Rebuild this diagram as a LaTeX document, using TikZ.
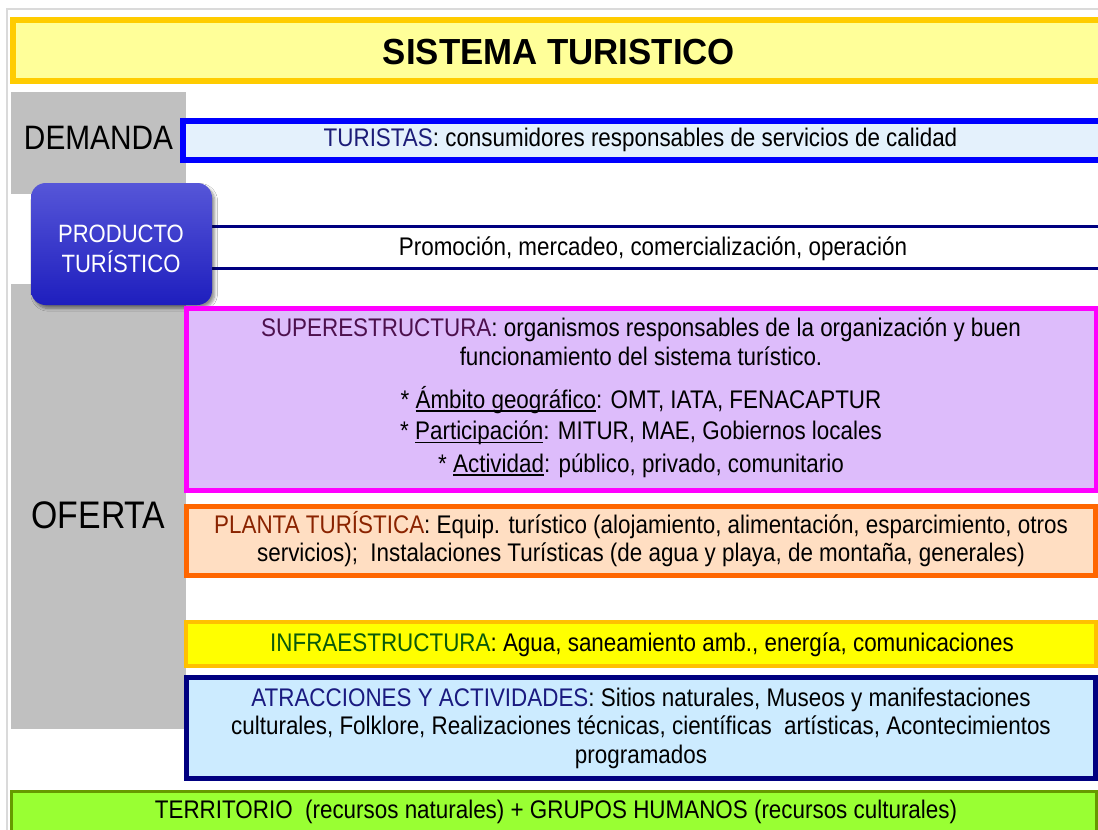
\documentclass[tikz,border=0pt]{standalone}
\usepackage{fontspec}
\setmainfont{Liberation Sans}[FakeStretch=0.88]
\newfontfamily\titlefont{Liberation Sans}[FakeStretch=0.96]
\usetikzlibrary{fit,shadows.blur}
\definecolor{slideedge}{HTML}{DADADA}
\definecolor{grayc}{HTML}{C0C0C0}
\definecolor{titlefill}{HTML}{FFFF99}
\definecolor{titleborder}{HTML}{FFCC00}
\definecolor{turborder}{HTML}{0000FF}
\definecolor{turfill}{HTML}{E4F1FC}
\definecolor{turlab}{HTML}{1C1C78}
\definecolor{navy}{HTML}{000080}
\definecolor{prodtop}{HTML}{5656D8}
\definecolor{prodbot}{HTML}{1E1EBE}
\definecolor{supborder}{HTML}{FF00FF}
\definecolor{supfill}{HTML}{DDBCFB}
\definecolor{suplab}{HTML}{4D104D}
\definecolor{plaborder}{HTML}{FF6600}
\definecolor{plafill}{HTML}{FFDEC2}
\definecolor{plalab}{HTML}{8A2300}
\definecolor{infborder}{HTML}{FFC000}
\definecolor{inffill}{HTML}{FFFF00}
\definecolor{inflab}{HTML}{0A5A0A}
\definecolor{atrfill}{HTML}{CCEBFF}
\definecolor{atrlab}{HTML}{1A1A80}
\definecolor{terborder}{HTML}{669900}
\definecolor{terfill}{HTML}{99FF33}
\newcommand{\undl}[1]{\setbox0\hbox{#1}\rlap{\rule[-2.8pt]{\wd0}{1.1pt}}\box0}
\newcommand{\bodyfont}{\fontsize{19.1}{22}\selectfont}
\begin{document}
\begin{tikzpicture}[x=0.75pt,y=-0.75pt,
  boxfit/.style={inner sep=0pt},
  txt/.style={anchor=base, inner sep=0pt, font=\bodyfont},
  navyline/.style={draw=navy, line width=2.2pt}]
\useasboundingbox (0,0) rectangle (1098,829);
\fill[white] (0,0) rectangle (1098,829);
% slide edge
\draw[slideedge, line width=1.5pt] (7,840) -- (7,9) -- (1110,9);
% gray column
\node[boxfit, fill=grayc, fit={(11,92) (186,194)}] (demcol) {};
\node[boxfit, fill=grayc, fit={(11,284) (186,729)}] (ofcol) {};
% title
\node[boxfit, draw=titleborder, fill=titlefill, line width=4.5pt, fit={(13,20) (1102,81)}] (title) {};
\node[anchor=base, inner sep=0pt, font=\titlefont\bfseries\fontsize{27.2}{30}\selectfont] (titletxt) at (559,64) {SISTEMA TURISTICO};
% demanda
\node[txt, font=\fontsize{25.4}{28}\selectfont] (demanda) at (98.5,149) {DEMANDA};
\node[boxfit, draw=turborder, fill=turfill, line width=4.5pt, fit={(183,121) (1102,160)}] (tur) {};
\node[txt] (turtxt) at (640.5,146) {{\color{turlab}TURISTAS}: consumidores responsables de servicios de calidad};
% promocion band
\node[boxfit, fill=white, fit={(186,227) (1105,268)}] (promo) {};
\draw[navyline] (promo.north west) -- (promo.north east);
\draw[navyline] (promo.south west) -- (promo.south east);
\node[txt] (promotxt) at (653,255) {Promoción, mercadeo, comercialización, operación};
% producto turistico
\node[boxfit, rounded corners=11pt, top color=prodtop, bottom color=prodbot,
  blur shadow={shadow xshift=2pt, shadow yshift=-2.5pt, shadow blur steps=6, shadow opacity=45},
  fit={(31,183) (212,305)}] (prod) {};
\node[txt, white, font=\fontsize{18.8}{22}\selectfont] (prod1) at (121,242) {PRODUCTO};
\node[txt, white, font=\fontsize{18.8}{22}\selectfont] (prod2) at (121,272) {TURÍSTICO};
% oferta
\node[txt, font=\fontsize{28.8}{32}\selectfont] (oferta) at (98.5,528) {OFERTA};
% superestructura
\node[boxfit, draw=supborder, fill=supfill, line width=3.75pt, fit={(186.5,308.5) (1096.5,490.5)}] (sup) {};
\node[txt] (sup1) at (641,336) {{\color{suplab}SUPERESTRUCTURA}: organismos responsables de la organización y buen};
\node[txt] (sup2) at (641,365) {funcionamiento del sistema turístico.};
\node[txt] (sup3) at (641,408) {* \undl{Ámbito geográfico}: OMT, IATA, FENACAPTUR};
\node[txt] (sup4) at (641,439.5) {* \undl{Participación}: MITUR, MAE, Gobiernos locales};
\node[txt] (sup5) at (641,472) {* \undl{Actividad}: público, privado, comunitario};
% planta turistica
\node[boxfit, draw=plaborder, fill=plafill, line width=3.75pt, fit={(186.5,506.5) (1095.5,575.5)}] (pla) {};
\node[txt] (pla1) at (641,533) {{\color{plalab}PLANTA TURÍSTICA}: Equip. turístico (alojamiento, alimentación, esparcimiento, otros};
\node[txt] (pla2) at (641,561) {servicios);\ \ Instalaciones Turísticas (de agua y playa, de montaña, generales)};
% infraestructura
\node[boxfit, draw=infborder, fill=inffill, line width=3pt, fit={(186,622) (1096,666)}] (inf) {};
\node[txt] (inftxt) at (642,651) {{\color{inflab}INFRAESTRUCTURA}: Agua, saneamiento amb., energía, comunicaciones};
% atracciones
\node[boxfit, draw=navy, fill=atrfill, line width=3.75pt, fit={(186.5,677.5) (1095.5,778.5)}] (atr) {};
\node[txt] (atr1) at (641,706) {{\color{atrlab}ATRACCIONES Y ACTIVIDADES}: Sitios naturales, Museos y manifestaciones};
\node[txt] (atr2) at (641,734) {culturales, Folklore, Realizaciones técnicas, científicas\ \ artísticas, Acontecimientos};
\node[txt] (atr3) at (641,763) {programados};
% territorio
\node[boxfit, draw=terborder, fill=terfill, line width=2.25pt, fit={(11.5,791.5) (1096.5,840)}] (ter) {};
\node[txt] (tertxt) at (556,818) {TERRITORIO\ \ (recursos naturales) + GRUPOS HUMANOS (recursos culturales)};
\end{tikzpicture}
\end{document}
